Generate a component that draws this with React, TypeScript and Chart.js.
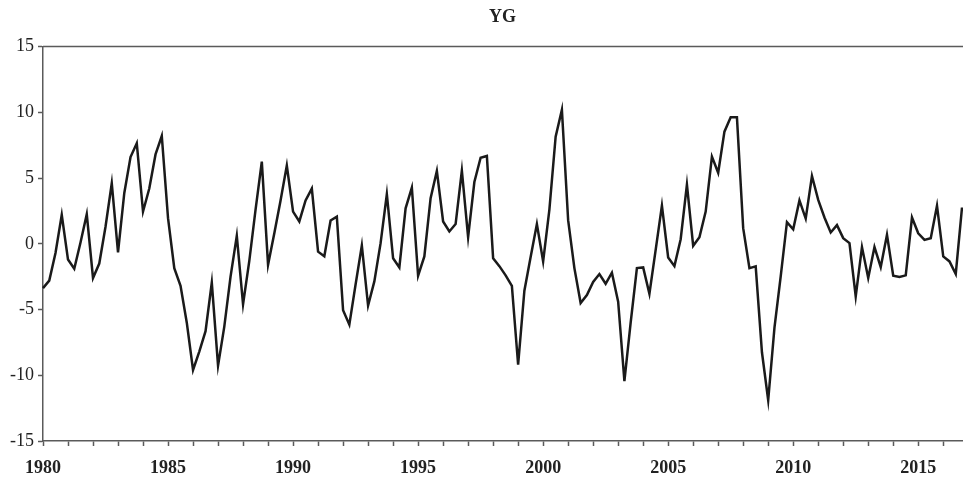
import React, { useEffect, useRef } from "react";
import { Chart, registerables } from "chart.js";

Chart.register(...registerables);

const firstYear = 1980;
const lastYear = 2016;
const quarterLabels: string[] = [];
for (let y = firstYear; y <= lastYear; y++) {
  for (let q = 1; q <= 4; q++) quarterLabels.push(`${y}Q${q}`);
}

const ygValues: number[] = [
  -3.37, -2.8, -0.7, 2.2,
  -1.2, -1.9, 0.1, 2.25,
  -2.6, -1.5, 1.3, 4.6,
  -0.66, 3.85, 6.6, 7.65,
  2.45, 4.2, 6.8, 8.2,
  1.95, -1.85, -3.2, -6.0,
  -9.6, -8.2, -6.65, -2.95,
  -9.27, -6.3, -2.5, 0.6,
  -4.6, -1.3, 2.6, 6.25,
  -1.6, 0.8, 3.3, 5.95,
  2.45, 1.7, 3.3, 4.2,
  -0.6, -0.95, 1.77, 2.07,
  -5.06, -6.15, -3.1, -0.13,
  -4.7, -2.86, 0.05, 3.77,
  -1.1, -1.8, 2.7, 4.28,
  -2.43, -0.96, 3.47, 5.54,
  1.7, 0.94, 1.5, 5.57,
  0.5, 4.7, 6.55, 6.68,
  -1.1, -1.7, -2.4, -3.2,
  -9.2, -3.57, -1.0, 1.5,
  -1.34, 2.6, 8.15, 10.2,
  1.8, -1.85, -4.5, -3.9,
  -2.9, -2.3, -3.04, -2.2,
  -4.4, -10.45, -6.0, -1.85,
  -1.8, -3.8, -0.46, 2.9,
  -1.04, -1.7, 0.35, 4.5,
  -0.15, 0.5, 2.45, 6.63,
  5.4, 8.53, 9.62, 9.62,
  1.19, -1.85, -1.72, -8.25,
  -11.9, -6.4, -2.48, 1.65,
  1.1, 3.3, 1.92, 5.16,
  3.34, 2.0, 0.86, 1.42,
  0.43, 0.05, -4.0, -0.25,
  -2.6, -0.25, -1.77, 0.68,
  -2.43, -2.53, -2.4, 2.0,
  0.8, 0.3, 0.43, 2.9,
  -0.96, -1.34, -2.3, 2.76,
];

const yMin = -15;
const yMax = 15;
const yStep = 5;
const labelEvery = 5;

const AXIS_COLOR = "#5a5a5a";
const FONT = "'Liberation Serif', 'DejaVu Serif', serif";

const topBorder = {
  id: "topBorder",
  afterDraw(chart: any) {
    const { ctx, chartArea } = chart;
    ctx.save();
    ctx.strokeStyle = AXIS_COLOR;
    ctx.lineWidth = 1.5;
    ctx.beginPath();
    ctx.moveTo(chartArea.left, chartArea.top);
    ctx.lineTo(chart.width, chartArea.top);
    ctx.stroke();
    ctx.restore();
  },
};

export default function App() {
  const canvasRef = useRef<HTMLCanvasElement | null>(null);

  useEffect(() => {
    document.body.style.margin = "0";
    const canvas = canvasRef.current;
    if (!canvas) return;
    const chart = new Chart(canvas, {
      type: "line",
      data: {
        labels: quarterLabels,
        datasets: [
          {
            label: "YG",
            data: ygValues,
            borderColor: "#1a1a1a",
            borderWidth: 2.5,
            pointRadius: 0,
            tension: 0,
            fill: false,
          },
        ],
      },
      options: {
        animation: false,
        responsive: false,
        maintainAspectRatio: false,
        layout: { padding: { left: 0, right: 1, top: 0, bottom: 0 } },
        plugins: {
          legend: { display: false },
          tooltip: { enabled: false },
          title: {
            display: true,
            text: "YG",
            color: "#222",
            font: { family: FONT, size: 18, weight: "bold" },
            padding: { top: 7, bottom: 18 },
            fullSize: false,
          },
        },
        scales: {
          x: {
            type: "category",
            offset: false,
            grid: {
              drawOnChartArea: false,
              drawTicks: true,
              tickLength: 5,
              tickColor: AXIS_COLOR,
              tickWidth: 1.5,
            },
            border: { display: true, color: AXIS_COLOR, width: 1.5 },
            afterBuildTicks: (scale: any) => {
              scale.ticks = scale.ticks.filter((t: any) => t.value % 4 === 0);
            },
            ticks: {
              autoSkip: false,
              maxRotation: 0,
              minRotation: 0,
              padding: 12,
              color: "#222",
              font: { family: FONT, size: 18, weight: "bold" },
              callback: function (this: any, value: any) {
                const lbl = quarterLabels[value as number] || "";
                const yr = parseInt(lbl.slice(0, 4), 10);
                return yr % labelEvery === 0 ? String(yr) : "";
              },
            },
            afterFit: (scale: any) => {
              scale.height = 38;
            },
          },
          y: {
            min: yMin,
            max: yMax,
            grid: {
              drawOnChartArea: false,
              drawTicks: true,
              tickLength: 5,
              tickColor: AXIS_COLOR,
              tickWidth: 1.5,
            },
            border: { display: true, color: AXIS_COLOR, width: 1.5 },
            ticks: {
              stepSize: yStep,
              padding: 4,
              color: "#222",
              font: { family: FONT, size: 18 },
            },
            afterFit: (scale: any) => {
              scale.width = 43;
            },
          },
        },
      },
      plugins: [topBorder],
    });
    return () => chart.destroy();
  }, []);

  return (
    <div style={{ width: 963, height: 479 }}>
      <canvas ref={canvasRef} width={963} height={479} style={{ display: "block" }} />
    </div>
  );
}
